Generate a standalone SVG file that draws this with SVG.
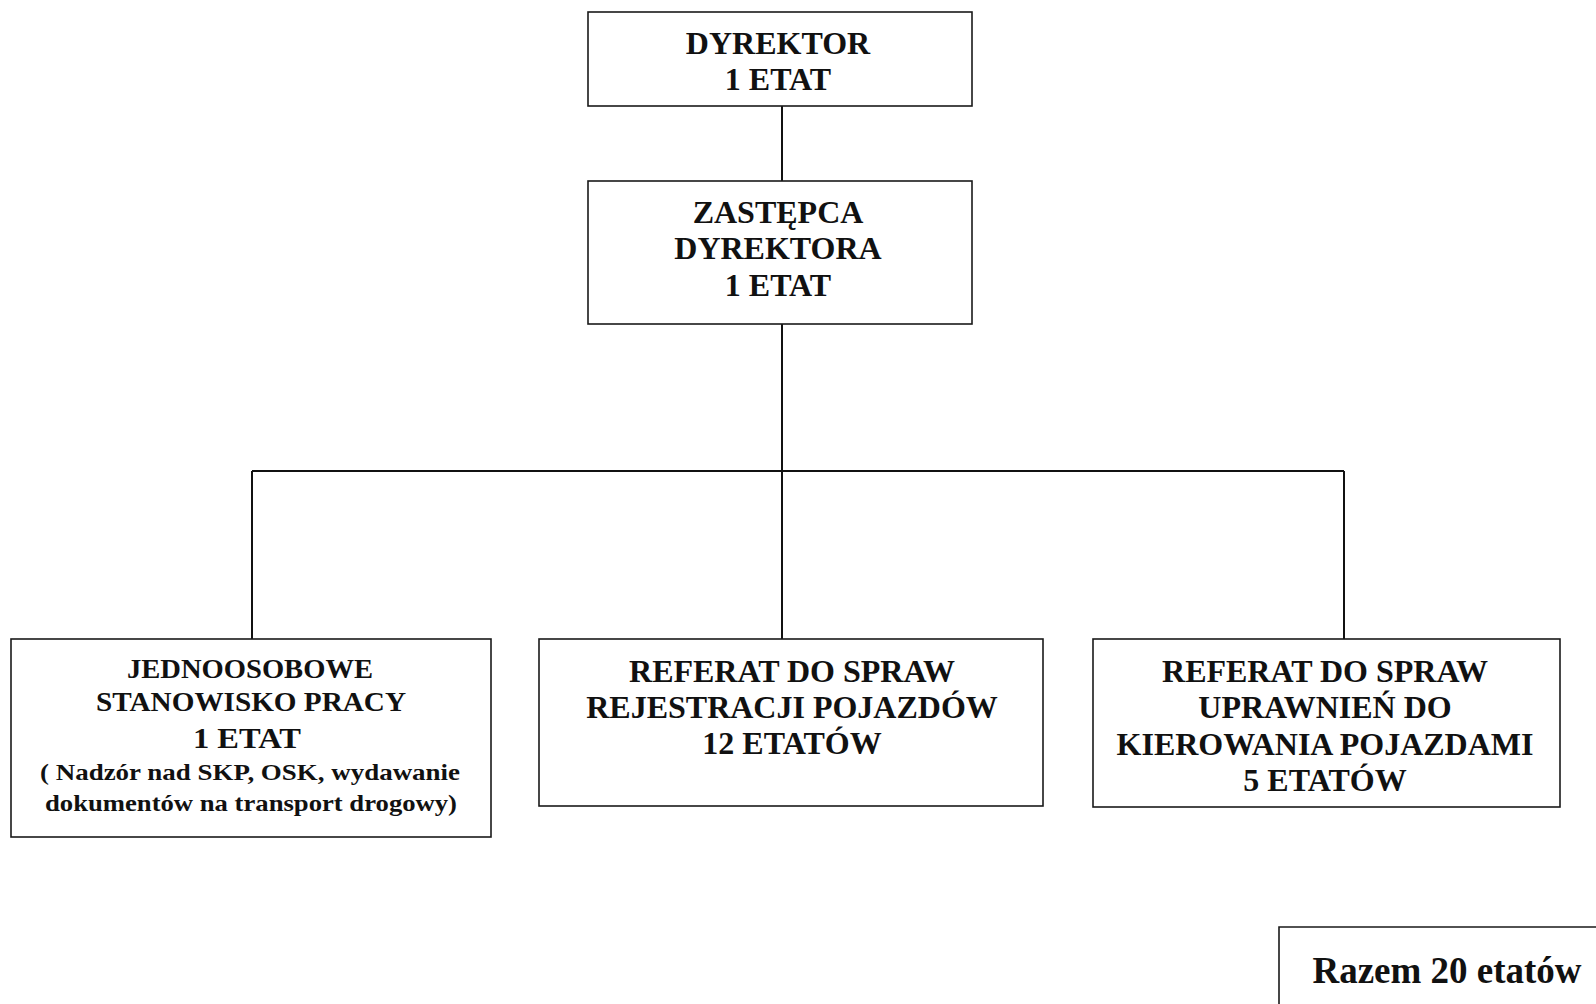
<svg xmlns="http://www.w3.org/2000/svg" width="1596" height="1004" viewBox="0 0 1596 1004">
<style>
.box{fill:#fff;stroke:#1a1a1a;stroke-width:1.6}
.t{font-family:"Liberation Serif","Times New Roman",serif;font-weight:bold;fill:#111;text-anchor:middle}
.t32{font-size:32px}
.conn{stroke:#111;stroke-width:2;fill:none}
</style>
<rect width="1596" height="1004" fill="#fff"/>
<g id="connectors">
<line class="conn" x1="782" y1="106" x2="782" y2="181"/>
<line class="conn" x1="782" y1="324" x2="782" y2="639"/>
<line class="conn" x1="252" y1="471" x2="1344" y2="471"/>
<line class="conn" x1="252" y1="471" x2="252" y2="639"/>
<line class="conn" x1="1344" y1="471" x2="1344" y2="639"/>
</g>
<g id="dyrektor">
<rect class="box" x="588" y="12" width="384" height="94"/>
<text class="t t32" x="778" y="54">DYREKTOR</text>
<text class="t t32" x="778" y="90">1 ETAT</text>
</g>
<g id="zastepca">
<rect class="box" x="588" y="181" width="384" height="143"/>
<text class="t t32" x="778" y="223">ZASTĘPCA</text>
<text class="t t32" x="778" y="259">DYREKTORA</text>
<text class="t t32" x="778" y="296">1 ETAT</text>
</g>
<g id="jednoosobowe">
<rect class="box" x="11" y="639" width="480" height="198"/>
<text class="t" x="250" y="678" font-size="27" textLength="246" lengthAdjust="spacingAndGlyphs">JEDNOOSOBOWE</text>
<text class="t" x="251" y="711" font-size="27" textLength="310" lengthAdjust="spacingAndGlyphs">STANOWISKO PRACY</text>
<text class="t" x="247" y="748" font-size="30" textLength="108" lengthAdjust="spacingAndGlyphs">1 ETAT</text>
<text class="t" x="250" y="780" font-size="23.5" textLength="420" lengthAdjust="spacingAndGlyphs">( Nadzór nad SKP, OSK, wydawanie</text>
<text class="t" x="251" y="811" font-size="23.5" textLength="412" lengthAdjust="spacingAndGlyphs">dokumentów na transport drogowy)</text>
</g>
<g id="rejestracja">
<rect class="box" x="539" y="639" width="504" height="167"/>
<text class="t t32" x="792" y="682">REFERAT DO SPRAW</text>
<text class="t t32" x="792" y="718">REJESTRACJI POJAZDÓW</text>
<text class="t t32" x="792" y="754">12 ETATÓW</text>
</g>
<g id="uprawnienia">
<rect class="box" x="1093" y="639" width="467" height="168"/>
<text class="t t32" x="1325" y="682">REFERAT DO SPRAW</text>
<text class="t t32" x="1325" y="718">UPRAWNIEŃ DO</text>
<text class="t t32" x="1325" y="755">KIEROWANIA POJAZDAMI</text>
<text class="t t32" x="1325" y="791">5 ETATÓW</text>
</g>
<g id="razem">
<path d="M1279 1004 V927 H1596" fill="none" stroke="#1a1a1a" stroke-width="1.6"/>
<text class="t" x="1447" y="983" font-size="37">Razem 20 etatów</text>
</g>
</svg>
